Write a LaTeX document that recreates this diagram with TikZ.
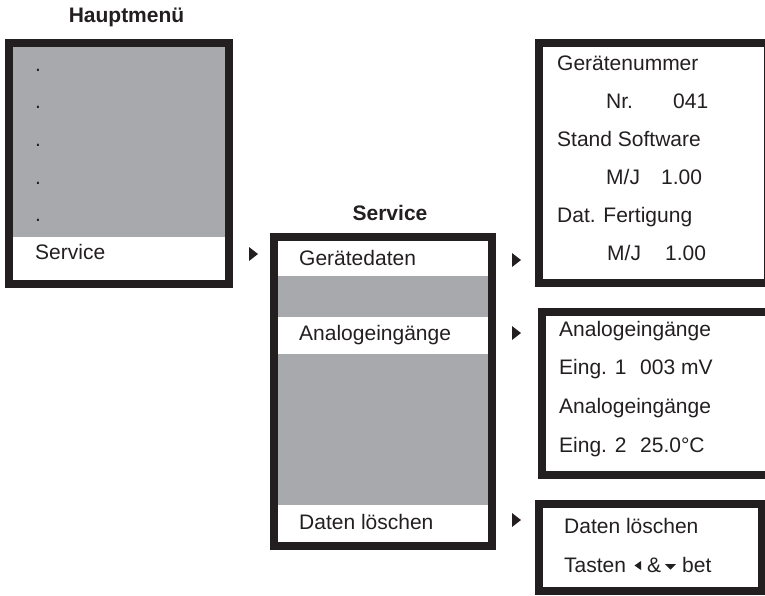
\documentclass[tikz,border=0pt]{standalone}
\usepackage{fontspec}
\setmainfont{Liberation Sans}
\definecolor{frame}{HTML}{231F20}
\definecolor{panel}{HTML}{A7A9AC}
\begin{document}
\begin{tikzpicture}[x=1pt,y=-1pt,
  txt/.style={anchor=base west, inner sep=0pt, font=\fontsize{21}{25}\selectfont, text=frame},
  ttl/.style={anchor=base, inner sep=0pt, font=\fontsize{21}{25}\selectfont\bfseries, text=frame},
  frm/.style={draw=frame, line width=8pt},
  band/.style={fill=panel},
  pointer/.style={fill=frame}]
\useasboundingbox (0,0) rectangle (765,595);
\clip (0,0) rectangle (765,595);

% ---- Hauptmenue
\node[ttl] (hm) at (126.5,22.5) {Hauptmenü};
\fill[band] (13,47) rectangle (225,237);
\draw[frm] (9,43) rectangle (229,284);
\node[txt] (d1) at (35,71.5) {.};
\node[txt] (d2) at (35,108.5) {.};
\node[txt] (d3) at (35,146.5) {.};
\node[txt] (d4) at (35,184.5) {.};
\node[txt] (d5) at (35,221.5) {.};
\node[txt] (m1) at (35,259.5) {Service};

% ---- Service menu
\node[ttl] (st) at (390,220.5) {Service};
\fill[band] (278,276) rectangle (489,317);
\fill[band] (278,354) rectangle (489,505);
\draw[frm] (274,237) rectangle (492,546);
\node[txt] (s1) at (299,265.5) {Gerätedaten};
\node[txt] (s2) at (299,340.5) {Analogeingänge};
\node[txt] (s3) at (299,529.5) {Daten löschen};

% ---- Geraetedaten
\draw[frm] (539,43) rectangle (768,283);
\node[txt] (g1) at (557,70.5) {Gerätenummer};
\node[txt] (g2a) at (606,108.5) {Nr.};
\node[txt] (g2b) at (673,108.5) {041};
\node[txt] (g3) at (557,146.5) {Stand Software};
\node[txt] (g4a) at (606,184.5) {M/J};
\node[txt] (g4b) at (661,184.5) {1.00};
\node[txt] (g5) at (557,222.5) {Dat. Fertigung};
\node[txt] (g6a) at (607,260.5) {M/J};
\node[txt] (g6b) at (665,260.5) {1.00};

% ---- Analogeingaenge
\draw[frm] (542,311.5) rectangle (780,475);
\node[txt] (a1) at (559,336.5) {Analogeingänge};
\node[txt] (a2a) at (559,374.5) {Eing. 1};
\node[txt] (a2b) at (640,374.5) {003 mV};
\node[txt] (a3) at (559,413.5) {Analogeingänge};
\node[txt] (a4a) at (559,452.5) {Eing. 2};
\node[txt] (a4b) at (640,452.5) {25.0°C};

% ---- Daten loeschen
\draw[frm] (539,504) rectangle (762,591);
\node[txt] (l1) at (564,533) {Daten löschen};
\node[txt] (l2a) at (564,572.5) {Tasten};
\fill[pointer] (641,561) -- (634.5,565.5) -- (641,570) -- cycle;
\node[txt] (l2b) at (647,572.5) {\&};
\fill[pointer] (665,564) -- (676,564) -- (670.5,569.5) -- cycle;
\node[txt] (l2c) at (682,572.5) {bet};

% ---- pointers
\fill[pointer] (249,247) -- (258,254) -- (249,261) -- cycle;
\fill[pointer] (512,253) -- (521,260) -- (512,267) -- cycle;
\fill[pointer] (512,326) -- (521,333) -- (512,340) -- cycle;
\fill[pointer] (512,513) -- (521,520) -- (512,527) -- cycle;
\end{tikzpicture}
\end{document}
